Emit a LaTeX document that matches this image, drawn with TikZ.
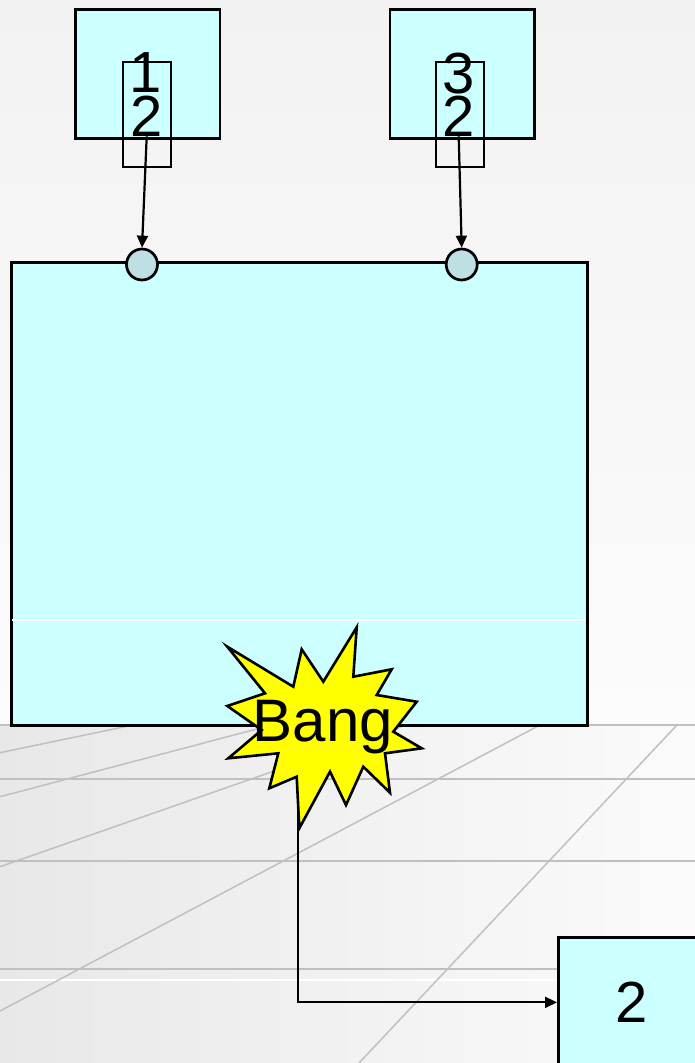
\documentclass[tikz,border=0pt]{standalone}
\usepackage{fontspec}
\setmainfont{Liberation Sans}
\usetikzlibrary{arrows.meta}
\definecolor{boxcyan}{RGB}{204,255,255}
\definecolor{portblue}{RGB}{190,224,227}
\definecolor{gridgray}{RGB}{192,192,192}
\definecolor{bangyellow}{RGB}{255,255,0}
\definecolor{bgtop}{RGB}{242,242,242}
\definecolor{bgbot}{RGB}{252,252,252}
\definecolor{floorL}{RGB}{232,232,232}
\definecolor{floorR}{RGB}{251,251,251}
\begin{document}
\begin{tikzpicture}[x=1pt,y=-1pt,
  box/.style={draw=black,line width=2.7pt,fill=boxcyan,inner sep=0pt,anchor=north west},
  framebox/.style={draw=black,line width=2pt,inner sep=0pt,minimum width=48pt,minimum height=105pt},
  gridline/.style={draw=gridgray,line width=1.5pt},
  num/.style={font=\fontsize{58}{58}\selectfont,inner sep=0pt},
  link/.style={draw=black,line width=2.2pt,-{Triangle[length=12pt,width=11pt]}},
  port/.style={circle,draw=black,line width=2.7pt,fill=portblue,minimum size=31pt,inner sep=0pt}
]
\useasboundingbox (0,0) rectangle (695,1063);
\clip (0,0) rectangle (695,1063);
% background
\fill[top color=bgtop,bottom color=bgbot] (0,0) rectangle (695,725);
\fill[left color=floorL,right color=floorR] (0,725) rectangle (695,1063);
% floor grid
\draw[gridline] (0,725) -- (695,725);
\draw[gridline] (0,779) -- (695,779);
\draw[gridline] (0,861) -- (695,861);
\draw[gridline] (0,969) -- (695,969);
\draw[white,line width=1.4pt] (0,980) -- (695,980);
\draw[gridline] (0,752.7) -- (133,725);
\draw[gridline] (0,796.7) -- (272,725);
\draw[gridline] (0,866.7) -- (406,725);
\draw[gridline] (0,1011) -- (540,725);
\draw[gridline] (359,1063) -- (677,725);
% main block
\node[box,minimum width=576pt,minimum height=463pt] (main) at (10,261) {};
\draw[white,line width=1.2pt] (11.5,620) -- (584.5,620);
% source blocks
\node[box,minimum width=144.5pt,minimum height=128.5pt] (srcA) at (74,8.3) {};
\node[box,minimum width=144.5pt,minimum height=128.5pt] (srcB) at (388.5,8.3) {};
\node[framebox] (frA) at (147,114.2) {};
\node[framebox] (frB) at (459.5,114.2) {};
\node[num] (a1) at (146,72.5) {1};
\node[num] (a2) at (146.7,116) {2};
\node[num] (b1) at (459,74) {3};
\node[num] (b2) at (458.7,116) {2};
% ports
\node[port] (pA) at (142,264.5) {};
\node[port] (pB) at (461.7,264.5) {};
\draw[link] (a2.south) -- (pA.north);
\draw[link] (b2.south) -- (pB.north);
% output block
\node[box,minimum width=146pt,minimum height=130pt,font=\fontsize{58}{58}\selectfont] (out) at (557,936) {2};
% connector from bang to output
\coordinate (tail) at (298,760);
\draw[link] (tail) |- (out.west);
% bang star
\filldraw[fill=bangyellow,draw=black,line width=2.6pt,line join=miter]
 (227.3,646.7) -- (293.3,686.7) -- (301.7,649.3) -- (323.3,681.7) --
 (356.7,627.3) -- (353.3,676.7) -- (391.7,669.3) -- (376.7,695) --
 (416.7,701.7) -- (393.3,731.7) -- (421.7,748.3) -- (385,753.3) --
 (390,792.7) -- (363.3,766.7) -- (346,805) -- (330,771.7) --
 (299.3,828.3) -- (296.7,776.7) -- (269.3,788.3) -- (278.3,753.3) --
 (228.3,758.3) -- (261.7,730) -- (227.3,706) -- (265,693.3) -- cycle;
\node[font=\fontsize{60}{60}\selectfont,inner sep=0pt,anchor=base] (bang) at (323,741.7) {Bang};
\end{tikzpicture}
\end{document}
